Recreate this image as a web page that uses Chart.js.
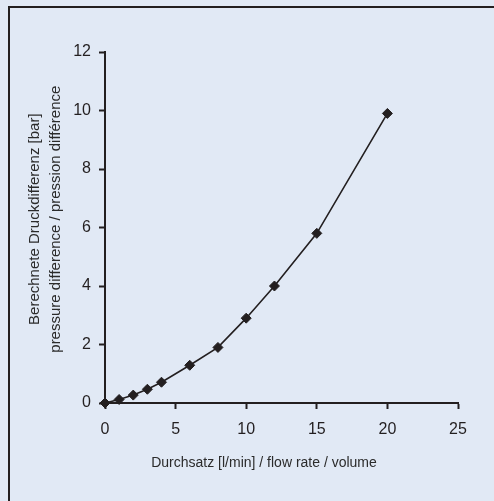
<!DOCTYPE html>
<html>
<head>
<meta charset="utf-8">
<script src="https://cdn.jsdelivr.net/npm/chart.js"></script>
<style>
  html, body { margin: 0; padding: 0; background: #e1e9f5; overflow: hidden; }
  #wrap { position: relative; width: 494px; height: 501px; }
  #frame { position: absolute; left: 8px; top: 6px; width: 600px; height: 600px;
           border-left: 2px solid #231f20; border-top: 2px solid #231f20; }
  #chart { position: absolute; left: 0; top: 0; }
</style>
</head>
<body>
<div id="wrap">
  <div id="frame"></div>
  <canvas id="chart" width="494" height="501"></canvas>
</div>
<script>
// flow rate [l/min] and calculated pressure difference [bar]
const flowRate = [0, 1, 2, 3, 4, 6, 8, 10, 12, 15, 20];
const pressureDiff = [0, 0.12, 0.27, 0.47, 0.71, 1.29, 1.9, 2.9, 4.0, 5.8, 9.9];
const xTitle = 'Durchsatz [l/min] / flow rate / volume';
const yTitle = ['Berechnete Druckdifferenz [bar]', 'pressure difference / pression différence'];

const ink = '#231f20';
const narrow = '"Liberation Sans Narrow", "Arial Narrow", "Liberation Sans", sans-serif';
const tickFont = { family: '"Liberation Sans", Arial, sans-serif', size: 16 };

// the original titles sit a little off the axis centre, nudge them with blank space
const xTitleText = xTitle + ' '.repeat(9);
const yTitleText = yTitle.map(t => ' '.repeat(4) + t);

const ctx = document.getElementById('chart').getContext('2d');

new Chart(ctx, {
  type: 'line',
  data: {
    datasets: [{
      data: flowRate.map((x, i) => ({ x: x, y: pressureDiff[i] })),
      borderColor: ink,
      borderWidth: 1.6,
      backgroundColor: ink,
      pointStyle: 'rectRot',
      pointRadius: 5,
      pointBorderWidth: 1,
      pointBorderColor: ink,
      pointBackgroundColor: ink,
      tension: 0,
      clip: false
    }]
  },
  options: {
    responsive: false,
    animation: false,
    devicePixelRatio: 1,
    layout: { padding: { top: 52, right: 36, left: 0, bottom: 0 } },
    plugins: {
      legend: { display: false },
      tooltip: { enabled: false }
    },
    scales: {
      x: {
        type: 'linear',
        min: 0,
        max: 25,
        afterFit: s => { s.height = 98; },
        ticks: { stepSize: 5, color: ink, font: tickFont, padding: 11, maxRotation: 0 },
        grid: { drawOnChartArea: false, drawTicks: true, tickLength: 6, tickWidth: 2, tickColor: ink },
        border: { display: true, color: ink, width: 2 },
        title: {
          display: true, text: xTitleText, color: '#2b2b2b',
          font: { family: narrow, size: 14, lineHeight: 1.45 },
          padding: { top: 0, bottom: 28 }
        }
      },
      y: {
        min: 0,
        max: 12,
        afterFit: s => { s.width = 105; },
        ticks: { stepSize: 2, color: ink, font: tickFont, padding: 8 },
        grid: { drawOnChartArea: false, drawTicks: true, tickLength: 6, tickWidth: 2, tickColor: ink },
        border: { display: true, color: ink, width: 2 },
        title: {
          display: true, text: yTitleText, color: '#2b2b2b',
          font: { family: narrow, size: 15, lineHeight: 1.38 },
          padding: { top: 25, bottom: 0 }
        }
      }
    }
  }
});
</script>
</body>
</html>
